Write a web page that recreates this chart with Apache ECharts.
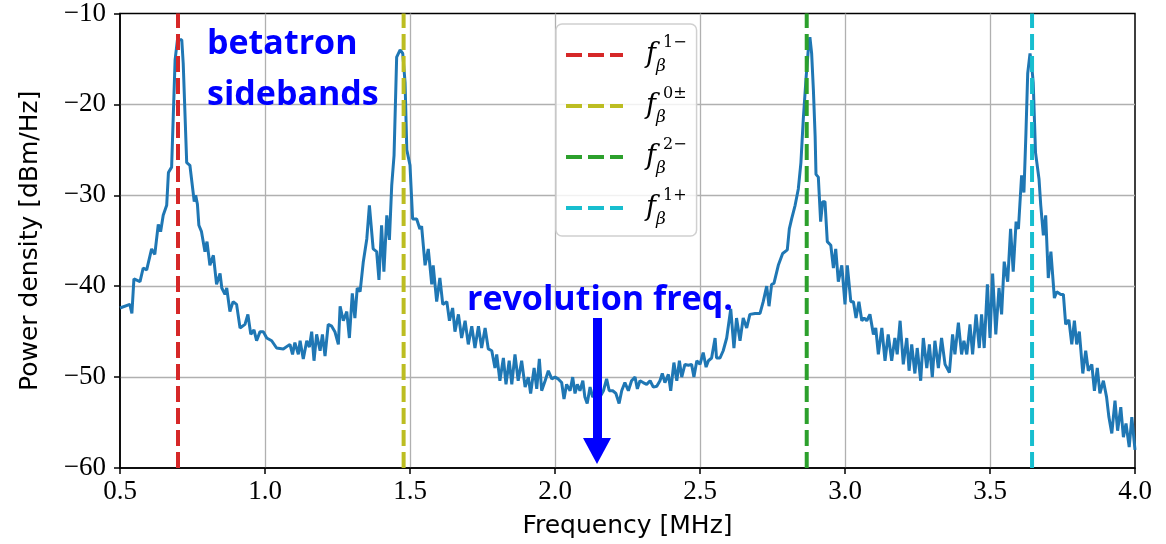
<!DOCTYPE html>
<html>
<head>
<meta charset="utf-8">
<script src="https://cdn.jsdelivr.net/npm/echarts@6/dist/echarts.min.js"></script>
<style>html,body{margin:0;padding:0;background:#fff}#c{width:1166px;height:544px}</style>
</head>
<body>
<div id="c"></div>
<script>
// ---- data ----
const freqMHz = [
0.500,0.534,0.541,0.548,0.569,0.580,0.592,0.609,0.620,0.632,0.640,0.649,0.661,0.667,0.678,0.690,0.698,0.713,0.718,0.730,
0.741,0.756,0.761,0.767,0.772,0.781,0.793,0.800,0.810,0.822,0.833,0.845,0.851,0.862,0.868,0.879,0.890,0.902,0.914,0.931,
0.941,0.951,0.962,0.971,0.983,0.994,1.006,1.023,1.040,
1.063,1.086,1.095,1.103,1.115,1.121,1.132,1.144,1.153,1.161,1.169,1.178,1.190,1.198,1.207,1.218,1.230,1.241,1.253,1.259,
1.270,1.282,1.291,1.301,1.310,1.318,1.328,1.339,1.351,1.360,1.373,1.385,1.393,1.402,1.410,1.420,1.429,1.437,1.445,
1.454,1.466,1.475,1.483,1.489,1.500,1.509,1.523,1.534,1.540,1.552,1.563,1.575,1.580,1.592,1.603,1.613,1.627,1.636,1.647,
1.655,1.667,1.678,1.690,1.701,1.713,1.724,1.736,1.747,1.759,1.770,
1.782,1.793,1.799,1.810,1.822,1.831,1.842,1.851,1.862,1.873,1.885,1.897,1.908,1.916,1.928,1.937,1.946,1.954,1.966,1.977,
1.989,2.000,2.011,2.023,2.031,2.040,2.052,2.061,2.069,2.077,2.086,2.096,2.103,2.111,2.121,2.130,2.144,2.155,2.167,2.178,
2.187,2.199,2.210,2.221,2.230,2.241,2.253,2.264,2.276,2.284,2.293,2.304,2.316,2.328,2.339,2.351,2.362,2.370,2.379,2.391,
2.399,2.410,2.420,2.429,2.437,2.448,2.460,2.471,2.479,2.489,2.500,2.511,2.521,2.529,2.540,2.552,2.557,2.569,2.580,2.592,
2.606,2.617,2.626,2.638,2.649,2.661,2.672,2.690,2.707,2.718,2.730,2.738,2.747,2.755,2.770,2.785,
2.801,2.808,2.816,2.828,2.839,2.848,2.856,2.866,2.874,2.879,2.885,2.891,2.897,2.900,2.908,2.916,2.923,2.931,2.939,2.951,
2.960,2.968,2.977,2.989,3.000,3.008,3.020,3.029,3.038,3.048,3.058,3.066,3.075,3.086,3.098,3.106,3.115,3.127,3.138,3.149,
3.161,3.172,3.180,3.190,3.201,3.213,3.221,3.230,3.241,3.249,3.261,3.270,3.282,3.291,3.301,3.310,3.322,3.333,3.345,
3.360,3.371,3.379,3.391,3.402,3.410,3.420,3.431,3.440,3.452,3.463,3.471,3.480,3.491,3.500,3.509,3.520,3.531,3.540,3.549,
3.561,3.571,3.580,3.590,3.598,3.609,3.617,3.624,3.630,3.638,3.644,3.649,3.657,3.669,3.675,3.684,3.692,3.701,3.710,3.722,
3.730,3.744,3.753,3.761,3.772,3.782,3.791,3.799,3.808,3.820,3.830,3.839,3.851,3.860,3.870,3.879,3.891,3.902,3.910,3.920,
3.931,3.940,3.951,3.960,3.969,3.980,3.989,4.000
];
const powerDbm = [
-42.4,-42.0,-43.0,-39.2,-39.5,-38.0,-38.2,-35.9,-36.5,-33.2,-34.0,-32.2,-31.1,-27.5,-26.9,-15.1,-12.9,-12.9,-15.5,-26.4,
-26.7,-30.7,-30.0,-31.0,-33.3,-34.0,-36.2,-35.1,-37.7,-36.6,-39.8,-38.6,-40.2,-40.9,-40.2,-42.8,-41.7,-42.0,-44.6,-44.2,
-43.1,-45.3,-44.8,-46.0,-45.0,-45.0,-45.7,-46.0,-46.8,
-46.9,-46.4,-47.5,-46.2,-47.5,-46.0,-48.0,-46.0,-46.7,-45.0,-48.2,-45.3,-47.1,-45.3,-47.7,-44.2,-44.4,-45.0,-46.4,-42.2,
-43.8,-42.8,-45.7,-40.8,-43.5,-40.2,-40.6,-37.3,-34.8,-31.1,-35.9,-36.2,-39.3,-33.3,-38.4,-32.2,-34.9,-28.9,-25.6,
-14.8,-14.0,-14.4,-17.6,-25.0,-26.7,-32.6,-32.6,-33.7,-33.4,-37.7,-35.9,-39.8,-37.7,-41.7,-39.1,-42.0,-41.7,-43.8,-42.4,
-45.0,-43.1,-45.7,-43.8,-46.4,-44.4,-46.8,-44.4,-46.8,-44.6,-46.9,
-47.1,-49.0,-47.5,-50.4,-47.9,-50.8,-48.2,-50.8,-47.5,-50.4,-48.2,-51.1,-50.0,-51.8,-49.0,-51.3,-48.0,-51.5,-50.4,-49.3,
-50.2,-50.0,-50.2,-50.6,-52.4,-50.8,-51.5,-50.0,-51.8,-50.8,-51.5,-50.4,-52.2,-52.9,-51.1,-52.2,-51.5,-52.2,-51.5,-50.2,
-51.5,-51.5,-51.8,-52.9,-51.5,-50.6,-51.5,-50.4,-50.0,-51.3,-50.4,-50.6,-50.8,-50.4,-51.1,-51.0,-50.4,-49.6,-50.6,-49.7,
-51.5,-48.4,-50.4,-48.2,-50.0,-48.6,-48.7,-48.6,-50.0,-48.2,-48.6,-47.3,-48.9,-48.2,-47.9,-45.7,-47.9,-47.9,-47.1,-45.7,
-42.5,-46.8,-43.5,-46.0,-43.5,-44.6,-43.1,-43.0,-43.0,-41.7,-40.0,-42.2,-39.8,-39.7,-37.7,-36.4,
-36.0,-33.7,-32.6,-31.1,-29.3,-26.4,-21.7,-17.0,-13.7,-12.6,-14.4,-18.4,-23.5,-27.7,-28.0,-32.9,-30.7,-30.7,-35.1,-35.5,
-38.0,-35.9,-39.5,-37.7,-42.0,-37.7,-41.7,-41.7,-43.5,-41.7,-43.8,-43.5,-43.8,-43.1,-45.3,-44.6,-47.5,-44.6,-48.2,-45.3,
-48.2,-45.7,-47.5,-43.8,-48.6,-45.7,-49.3,-46.4,-49.6,-46.8,-50.4,-45.7,-49.0,-46.4,-50.0,-46.0,-49.0,-45.7,-48.6,
-49.5,-45.3,-47.5,-44.0,-47.5,-46.0,-47.5,-44.2,-47.5,-43.1,-46.8,-43.1,-46.8,-39.8,-45.7,-38.6,-45.3,-40.2,-43.1,-37.3,
-39.5,-33.7,-38.4,-32.9,-33.7,-27.8,-29.7,-23.1,-16.6,-14.4,-15.8,-17.6,-25.3,-28.2,-31.1,-34.4,-32.2,-39.1,-36.2,-41.3,
-40.6,-40.9,-40.9,-44.2,-43.7,-46.4,-43.8,-46.4,-45.0,-49.6,-47.1,-49.3,-48.6,-51.5,-49.0,-51.8,-50.4,-52.2,-54.4,-56.2,
-52.6,-55.9,-53.3,-56.6,-55.1,-57.7,-54.4,-58.0
];
const sidebandNames = ['1\u2212', '0\u00b1', '2\u2212', '1+'];
const sidebandFreqs = [0.70, 1.478, 2.868, 3.645];
const sidebandColors = ['#d62728', '#bcbd22', '#2ca02c', '#17becf'];
const xTicks = [0.5, 1.0, 1.5, 2.0, 2.5, 3.0, 3.5, 4.0];
const yTicks = [-60, -50, -40, -30, -20, -10];

const chart = echarts.init(document.getElementById('c'), null, {renderer: 'canvas'});
const curve = freqMHz.map((f, i) => [f, powerDbm[i]]);
const yMin = yTicks[0], yMax = yTicks[yTicks.length - 1];

const series = [{
  type: 'line', name: 'psd', data: curve, symbol: 'none', showSymbol: false, silent: true, z: 2,
  lineStyle: {color: '#1f77b4', width: 3}
}];
sidebandFreqs.forEach((f, i) => {
  series.push({
    type: 'line', name: sidebandNames[i], data: [[f, yMin], [f, yMax]],
    symbol: 'none', showSymbol: false, silent: true, z: 3, color: sidebandColors[i],
    lineStyle: {color: sidebandColors[i], width: 4, type: [16, 6]}
  });
});

const dashIcon = 'path://M0,0 H16 V4 H0 Z M22,0 H38 V4 H22 Z M44,0 H57 V4 H44 Z';
const serif = 'Liberation Serif';
const sans = 'DejaVu Sans';
chart.setOption({
  animation: false,
  grid: {left: 120, right: 31, top: 10, bottom: 76, show: true, borderColor: '#000', borderWidth: 1.5, backgroundColor: 'transparent'},
  xAxis: {
    type: 'value', min: xTicks[0], max: xTicks[xTicks.length - 1], interval: 0.5,
    name: 'Frequency [MHz]', nameLocation: 'middle', nameGap: 46,
    nameTextStyle: {fontFamily: sans, fontSize: 25, color: '#000'},
    axisLine: {show: true, lineStyle: {color: '#000', width: 1.5}},
    axisTick: {show: true, length: 6, inside: false, lineStyle: {color: '#000', width: 1.5}},
    axisLabel: {margin: 10, fontFamily: serif, fontSize: 27, color: '#000', formatter: v => v.toFixed(1)},
    splitLine: {show: true, showMinLine: false, showMaxLine: false, lineStyle: {color: '#b0b0b0', width: 1.3}}
  },
  yAxis: {
    type: 'value', min: yMin, max: yMax, interval: 10,
    name: 'Power density [dBm/Hz]', nameLocation: 'middle', nameGap: 77,
    nameTextStyle: {fontFamily: sans, fontSize: 25, color: '#000'},
    axisLine: {show: true, lineStyle: {color: '#000', width: 1.5}},
    axisTick: {show: true, length: 6, inside: false, lineStyle: {color: '#000', width: 1.5}},
    axisLabel: {margin: 14, fontFamily: serif, fontSize: 27, color: '#000',
      formatter: v => (v < 0 ? '\u2212' : '') + Math.abs(v)},
    splitLine: {show: true, showMinLine: false, showMaxLine: false, lineStyle: {color: '#b0b0b0', width: 1.3}}
  },
  legend: {
    data: sidebandNames.map((n, i) => ({name: n, icon: dashIcon, itemStyle: {color: sidebandColors[i]}})),
    orient: 'vertical', left: 556, top: 24,
    padding: [11, 10, 8, 10], itemGap: 11, itemWidth: 57, itemHeight: 4,
    backgroundColor: 'rgba(255,255,255,0.82)', borderColor: '#d0d0d0', borderWidth: 1.5, borderRadius: 6,
    selectedMode: false,
    formatter: n => '{f|f}{b|\u03b2}{s|' + n + '}',
    textStyle: {
      color: '#000',
      rich: {
        f: {fontFamily: 'DejaVu Serif', fontStyle: 'italic', fontSize: 27, lineHeight: 40, padding: [0, 0, 0, 18], color: '#000'},
        b: {fontFamily: 'DejaVu Serif', fontStyle: 'italic', fontSize: 17, lineHeight: 20, verticalAlign: 'bottom', width: 1, color: '#000'},
        s: {fontFamily: 'DejaVu Serif', fontSize: 16, lineHeight: 20, verticalAlign: 'top', padding: [0, 0, 0, 6], color: '#000'}
      }
    }
  },
  series: series,
  graphic: [
    {type: 'text', z: 100, style: {x: 207, y: 44, text: 'betatron', font: 'bold 34px "Open Sans"', fill: '#0000ff', verticalAlign: 'middle'}},
    {type: 'text', z: 100, style: {x: 207, y: 95, text: 'sidebands', font: 'bold 34px "Open Sans"', fill: '#0000ff', verticalAlign: 'middle'}},
    {type: 'text', z: 100, style: {x: 467, y: 300, text: 'revolution freq.', font: 'bold 34px "Open Sans"', fill: '#0000ff', verticalAlign: 'middle'}},
    {type: 'rect', z: 100, shape: {x: 593, y: 318, width: 9, height: 122}, style: {fill: '#0000ff'}},
    {type: 'polygon', z: 100, shape: {points: [[583, 438], [611, 438], [597, 464]]}, style: {fill: '#0000ff'}}
  ]
});
</script>
</body>
</html>
